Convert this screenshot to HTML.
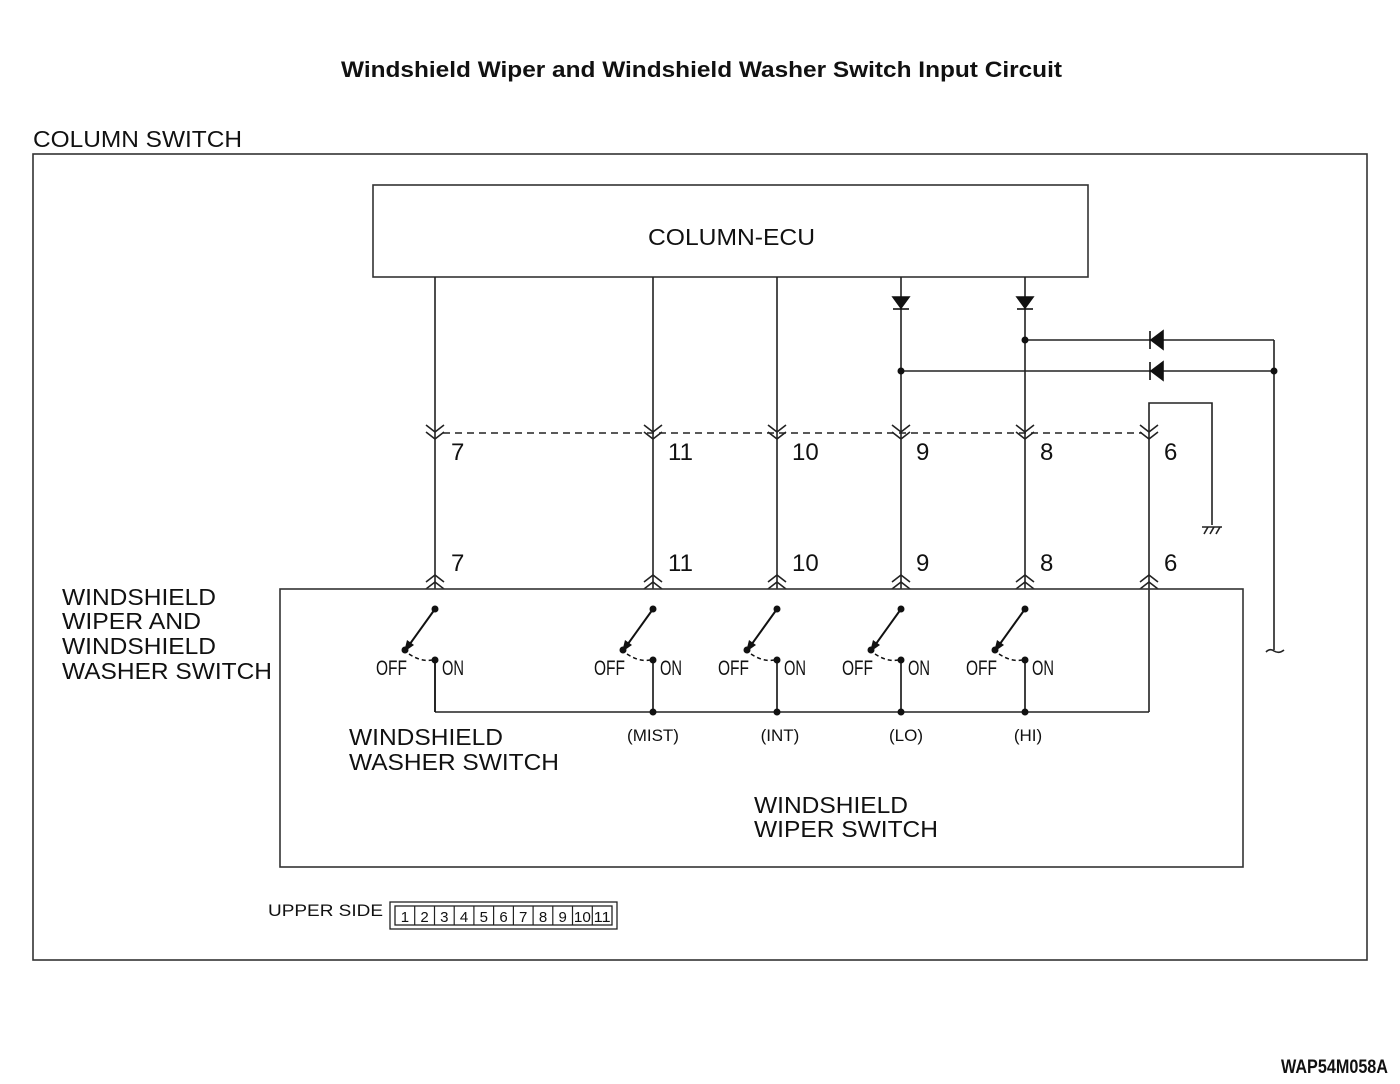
<!DOCTYPE html>
<html><head><meta charset="utf-8"><style>
html,body{margin:0;padding:0;background:#fff;}
svg{display:block;}
text{font-family:"Liberation Sans",sans-serif;fill:#111;}
.c{font-family:"Liberation Sans Narrow","Liberation Sans",sans-serif;}
</style></head><body>
<svg width="1400" height="1084" viewBox="0 0 1400 1084" xmlns="http://www.w3.org/2000/svg">
<defs>
  <g id="dn" fill="none" stroke="#222" stroke-width="1.6">
    <polyline points="-9,-7 0,0 9,-7"/><polyline points="-9,0 0,7 9,0"/>
  </g>
  <g id="up" fill="none" stroke="#222" stroke-width="1.6">
    <polyline points="-9,7 0,0 9,7"/><polyline points="-9,14 0,7 9,14"/>
  </g>
  <g id="sw">
    <circle cx="0" cy="609" r="3.5" fill="#111"/>
    <line x1="0" y1="609" x2="-28" y2="648" stroke="#111" stroke-width="2"/>
    <polygon points="-31,652 -28,640 -21,645" fill="#111"/>
    <circle cx="-30" cy="650" r="3.5" fill="#111"/>
    <path d="M-26,654 Q-14,662 -3,660" fill="none" stroke="#111" stroke-width="1.5" stroke-dasharray="4,3"/>
    <circle cx="0" cy="660" r="3.5" fill="#111"/>
    <line x1="0" y1="660" x2="0" y2="712" stroke="#111" stroke-width="1.6"/>
    <text x="-59" y="675" font-size="21" class="c" textLength="31" lengthAdjust="spacingAndGlyphs">OFF</text>
    <text x="7" y="675" font-size="21" class="c" textLength="22" lengthAdjust="spacingAndGlyphs">ON</text>
  </g>
</defs>

<text x="341" y="77" font-size="22" font-weight="bold" textLength="721" lengthAdjust="spacingAndGlyphs">Windshield Wiper and Windshield Washer Switch Input Circuit</text>
<text x="33" y="147" font-size="23" textLength="209" lengthAdjust="spacingAndGlyphs">COLUMN SWITCH</text>
<rect x="33" y="154" width="1334" height="806" fill="none" stroke="#333" stroke-width="1.6"/>

<rect x="373" y="185" width="715" height="92" fill="none" stroke="#333" stroke-width="1.6"/>
<text x="648" y="245" font-size="23" textLength="167" lengthAdjust="spacingAndGlyphs">COLUMN-ECU</text>

<g stroke="#222" stroke-width="1.6" fill="none">
  <line x1="435" y1="277" x2="435" y2="589"/>
  <line x1="653" y1="277" x2="653" y2="589"/>
  <line x1="777" y1="277" x2="777" y2="589"/>
  <line x1="901" y1="277" x2="901" y2="589"/>
  <line x1="1025" y1="277" x2="1025" y2="589"/>
  <polyline points="1149,712 1149,403 1212,403 1212,525"/>
  <line x1="1025" y1="340" x2="1274" y2="340"/>
  <line x1="901" y1="371" x2="1274" y2="371"/>
  <polyline points="1274,340 1274,650"/>
  <path d="M1266,652 Q1270,648 1274,651 Q1279,654 1284,650"/>
  <line x1="443" y1="433" x2="1142" y2="433" stroke-dasharray="7,5"/>
  <line x1="435" y1="660" x2="435" y2="712"/>
  <line x1="435" y1="712" x2="1149" y2="712"/>
  <line x1="1202" y1="527" x2="1222" y2="527"/>
  <line x1="1204" y1="534" x2="1208" y2="527"/><line x1="1210" y1="534" x2="1214" y2="527"/><line x1="1216" y1="534" x2="1220" y2="527"/>
</g>
<g fill="#111" stroke="#111" stroke-width="1.6">
  <polygon points="893,297 909,297 901,308"/><line x1="893" y1="309" x2="909" y2="309"/>
  <polygon points="1017,297 1033,297 1025,308"/><line x1="1017" y1="309" x2="1033" y2="309"/>
  <polygon points="1163,331 1163,349 1151,340"/><line x1="1150" y1="331" x2="1150" y2="349"/>
  <polygon points="1163,362 1163,380 1151,371"/><line x1="1150" y1="362" x2="1150" y2="380"/>
</g>
<g fill="#111">
  <circle cx="1025" cy="340" r="3.5"/><circle cx="901" cy="371" r="3.5"/><circle cx="1274" cy="371" r="3.5"/>
  <circle cx="653" cy="712" r="3.5"/><circle cx="777" cy="712" r="3.5"/><circle cx="901" cy="712" r="3.5"/><circle cx="1025" cy="712" r="3.5"/>
</g>
<use href="#dn" x="435" y="432"/><use href="#dn" x="653" y="432"/><use href="#dn" x="777" y="432"/>
<use href="#dn" x="901" y="432"/><use href="#dn" x="1025" y="432"/><use href="#dn" x="1149" y="432"/>
<use href="#up" x="435" y="575"/><use href="#up" x="653" y="575"/><use href="#up" x="777" y="575"/>
<use href="#up" x="901" y="575"/><use href="#up" x="1025" y="575"/><use href="#up" x="1149" y="575"/>
<g font-size="24" class="c">
  <text x="451" y="460">7</text><text x="668" y="460">11</text><text x="792" y="460">10</text>
  <text x="916" y="460">9</text><text x="1040" y="460">8</text><text x="1164" y="460">6</text>
  <text x="451" y="571">7</text><text x="668" y="571">11</text><text x="792" y="571">10</text>
  <text x="916" y="571">9</text><text x="1040" y="571">8</text><text x="1164" y="571">6</text>
</g>

<rect x="280" y="589" width="963" height="278" fill="none" stroke="#333" stroke-width="1.6"/>
<use href="#sw" x="435" y="0"/><use href="#sw" x="653" y="0"/><use href="#sw" x="777" y="0"/>
<use href="#sw" x="901" y="0"/><use href="#sw" x="1025" y="0"/>

<g font-size="23" lengthAdjust="spacingAndGlyphs">
  <text x="62" y="605" textLength="154" lengthAdjust="spacingAndGlyphs">WINDSHIELD</text>
  <text x="62" y="629" textLength="139" lengthAdjust="spacingAndGlyphs">WIPER AND</text>
  <text x="62" y="654" textLength="154" lengthAdjust="spacingAndGlyphs">WINDSHIELD</text>
  <text x="62" y="679" textLength="210" lengthAdjust="spacingAndGlyphs">WASHER SWITCH</text>
  <text x="349" y="745" textLength="154" lengthAdjust="spacingAndGlyphs">WINDSHIELD</text>
  <text x="349" y="770" textLength="210" lengthAdjust="spacingAndGlyphs">WASHER SWITCH</text>
  <text x="754" y="813" textLength="154" lengthAdjust="spacingAndGlyphs">WINDSHIELD</text>
  <text x="754" y="837" textLength="184" lengthAdjust="spacingAndGlyphs">WIPER SWITCH</text>
</g>
<g font-size="17" text-anchor="middle">
  <text x="653" y="741">(MIST)</text><text x="780" y="741">(INT)</text>
  <text x="906" y="741">(LO)</text><text x="1028" y="741">(HI)</text>
</g>

<text x="268" y="916" font-size="17" textLength="115" lengthAdjust="spacingAndGlyphs">UPPER SIDE</text>
<rect x="390" y="902" width="227" height="27" fill="none" stroke="#222" stroke-width="1.3"/>
<rect x="395" y="906" width="217" height="19" fill="none" stroke="#222" stroke-width="1.3"/>
<g stroke="#222" stroke-width="1.2">
  <line x1="414.7" y1="906" x2="414.7" y2="925"/><line x1="434.5" y1="906" x2="434.5" y2="925"/>
  <line x1="454.2" y1="906" x2="454.2" y2="925"/><line x1="473.9" y1="906" x2="473.9" y2="925"/>
  <line x1="493.6" y1="906" x2="493.6" y2="925"/><line x1="513.4" y1="906" x2="513.4" y2="925"/>
  <line x1="533.1" y1="906" x2="533.1" y2="925"/><line x1="552.8" y1="906" x2="552.8" y2="925"/>
  <line x1="572.5" y1="906" x2="572.5" y2="925"/><line x1="592.3" y1="906" x2="592.3" y2="925"/>
</g>
<g font-size="15" text-anchor="middle" class="c">
  <text x="404.9" y="922">1</text><text x="424.6" y="922">2</text><text x="444.3" y="922">3</text>
  <text x="464" y="922">4</text><text x="483.8" y="922">5</text><text x="503.5" y="922">6</text>
  <text x="523.2" y="922">7</text><text x="543" y="922">8</text><text x="562.7" y="922">9</text>
  <text x="582.4" y="922" textLength="17" lengthAdjust="spacingAndGlyphs">10</text>
  <text x="602.1" y="922" textLength="17" lengthAdjust="spacingAndGlyphs">11</text>
</g>

<text x="1281" y="1073" font-size="19" font-weight="bold" textLength="107" lengthAdjust="spacingAndGlyphs" class="c">WAP54M058A</text>
</svg>
</body></html>
